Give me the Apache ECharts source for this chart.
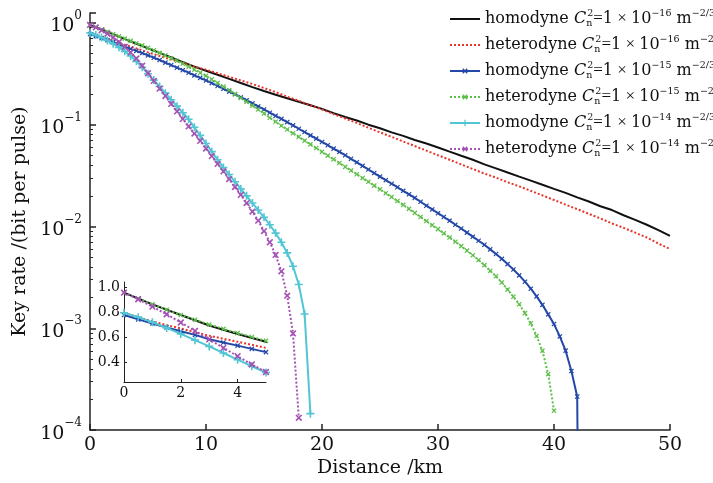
<!DOCTYPE html>
<html>
<head>
<meta charset="utf-8">
<script src="https://cdn.jsdelivr.net/npm/echarts@6/dist/echarts.min.js"></script>
<style>
html, body { margin: 0; padding: 0; background: #fff; }
#container { width: 713px; height: 483px; }
</style>
</head>
<body>
<div id="container"></div>
<script>
// distances (km)
var dist05 = [0,0.5,1,1.5,2,2.5,3,3.5,4,4.5,5,5.5,6,6.5,7,7.5,8,8.5,9,9.5,
  10,10.5,11,11.5,12,12.5,13,13.5,14,14.5,15,15.5,16,16.5,17,17.5,18,18.5,19,19.5,
  20,20.5,21,21.5,22,22.5,23,23.5,24,24.5,25,25.5,26,26.5,27,27.5,28,28.5,29,29.5,
  30,30.5,31,31.5,32,32.5,33,33.5,34,34.5,35,35.5,36,36.5,37,37.5,38,38.5,39,39.5,
  40,40.5,41,41.5,42];
var dist1 = [0,1,2,3,4,5,6,7,8,9,10,11,12,13,14,15,16,17,18,19,20,21,22,23,24,25,
  26,27,28,29,30,31,32,33,34,35,36,37,38,39,40,41,42,43,44,45,46,47,48,49,50];

// key rate (bit per pulse)
var homo16 = [0.955,0.861,0.776,0.692,0.624,0.562,0.507,0.457,0.412,0.372,
  0.339,0.309,0.282,0.257,0.234,0.214,0.197,0.182,0.168,0.155,
  0.143,0.130,0.119,0.110,0.100,0.0923,0.0841,0.0776,0.0708,0.0653,
  0.0596,0.0543,0.0495,0.0452,0.0407,0.0372,0.0339,0.0309,0.0282,0.0257,
  0.0234,0.0214,0.0193,0.0176,0.0158,0.0145,0.0129,0.0116,0.0104,0.0092,
  0.0081];
var hetero16 = [0.794,0.724,0.668,0.610,0.562,0.513,0.473,0.437,0.403,0.372,
  0.347,0.320,0.295,0.272,0.251,0.229,0.209,0.188,0.172,0.155,
  0.141,0.127,0.115,0.104,0.0933,0.0841,0.0759,0.0684,0.0617,0.0556,
  0.0501,0.0452,0.0407,0.0367,0.0331,0.0302,0.0272,0.0248,0.0224,0.0202,
  0.0182,0.0164,0.0148,0.0133,0.0120,0.0107,0.0097,0.0087,0.0078,0.0068,
  0.0060];
var homo15 = [0.776,0.741,0.708,0.676,0.646,0.617,0.582,0.556,0.531,0.505,
  0.479,0.455,0.432,0.407,0.385,0.363,0.343,0.324,0.305,0.288,
  0.272,0.256,0.240,0.225,0.211,0.199,0.186,0.174,0.162,0.151,
  0.141,0.131,0.122,0.114,0.106,0.0984,0.0912,0.0847,0.0785,0.0729,
  0.0676,0.0628,0.0582,0.0541,0.0501,0.0462,0.0427,0.0394,0.0363,0.0335,
  0.0309,0.0285,0.0263,0.0243,0.0224,0.0207,0.0191,0.0175,0.0160,0.0147,
  0.0135,0.0124,0.0114,0.0104,0.00955,0.00871,0.00794,0.00724,0.00661,0.00596,
  0.00537,0.00481,0.00427,0.00378,0.00331,0.00287,0.00245,0.00206,0.00170,0.00137,
  0.00110,0.000832,0.000603,0.000380,0.000214];
var homo15Drop = [42.1, 0.00001];   // falls off the bottom of the axis
var hetero15 = [0.955,0.908,0.861,0.818,0.776,0.738,0.700,0.665,0.631,0.600,
  0.569,0.537,0.507,0.479,0.450,0.424,0.398,0.372,0.347,0.324,
  0.302,0.279,0.257,0.237,0.218,0.200,0.183,0.168,0.154,0.141,
  0.129,0.117,0.107,0.0977,0.0897,0.0824,0.0759,0.0697,0.0640,0.0589,
  0.0541,0.0497,0.0457,0.0420,0.0385,0.0355,0.0326,0.0299,0.0275,0.0252,
  0.0232,0.0212,0.0195,0.0178,0.0163,0.0149,0.0136,0.0124,0.0113,0.0103,
  0.00942,0.00857,0.00780,0.00708,0.00641,0.00579,0.00522,0.00468,0.00417,0.00367,
  0.00324,0.00282,0.00240,0.00204,0.00172,0.00141,0.00112,0.000841,0.000603,0.000355,
  0.000155];
var homo14 = [0.794,0.759,0.718,0.673,0.625,0.575,0.525,0.472,0.419,0.366,
  0.316,0.274,0.237,0.204,0.176,0.152,0.131,0.113,0.0942,0.0785,
  0.0653,0.0543,0.0452,0.0380,0.0324,0.0275,0.0234,0.0200,0.0170,0.0145,
  0.0123,0.0104,0.00861,0.00700,0.00550,0.00407,0.00269,0.00138,0.000145];
var hetero14 = [0.955,0.902,0.843,0.782,0.716,0.649,0.581,0.513,0.447,0.380,
  0.320,0.269,0.226,0.191,0.160,0.135,0.114,0.0962,0.0817,0.0692,
  0.0582,0.0490,0.0412,0.0347,0.0292,0.0244,0.0204,0.0170,0.0140,0.0114,
  0.00902,0.00700,0.00525,0.00363,0.00209,0.000891,0.000132];

var xTicks = [0,10,20,30,40,50];
var yTicks = [0.0001,0.001,0.01,0.1,1];
var insetXTicks = [0,2,4];
var insetYTicks = [0.4,0.6,0.8,1.0];

var names = ['homodyne 16','heterodyne 16','homodyne 15','heterodyne 15','homodyne 14','heterodyne 14'];
var expo = { '16': '−16', '15': '−15', '14': '−14' };

var FONT = 'DejaVu Serif';
var OPFONT = 'Liberation Serif';
var plusPath = 'path://M4,0H6V4H10V6H6V10H4V6H0V4H4Z';

function pairs(xs, ys) {
  return ys.map(function (y, i) { return [xs[i], y]; });
}

var looks = [
  { data: pairs(dist1, homo16), color: '#111111', type: 'solid', width: 2, symbol: 'none' },
  { data: pairs(dist1, hetero16), color: '#e8352b', type: 'dotted', width: 2, symbol: 'none' },
  { data: pairs(dist05, homo15).concat([homo15Drop]), color: '#2448a8', type: 'solid', width: 2, symbol: plusPath, size: 6, rot: 45 },
  { data: pairs(dist05, hetero15), color: '#5cbf48', type: 'dotted', width: 2, symbol: plusPath, size: 6, rot: 45 },
  { data: pairs(dist05, homo14), color: '#52c6d4', type: 'solid', width: 2, symbol: plusPath, size: 8, rot: 0 },
  { data: pairs(dist05, hetero14), color: '#a452b4', type: 'dotted', width: 2, symbol: plusPath, size: 8, rot: 45 }
];

var series = [];
[0, 1].forEach(function (g) {
  looks.forEach(function (s, i) {
    series.push({
      name: names[i],
      type: 'line',
      xAxisIndex: g, yAxisIndex: g,
      data: s.data,
      symbol: s.symbol,
      symbolSize: s.size,
      symbolRotate: s.rot || 0,
      showSymbol: s.symbol !== 'none',
      itemStyle: { color: s.color },
      lineStyle: { color: s.color, type: s.type, width: s.width },
      clip: true,
      z: 2 + i
    });
  });
});

var legendData = names.map(function (n, i) {
  return looks[i].symbol === 'none' ? { name: n, itemStyle: { opacity: 0 } } : { name: n };
});

var chart = echarts.init(document.getElementById('container'));
var axisCol = '#222';
var option = {
  animation: false,
  backgroundColor: '#fff',
  legend: {
    data: legendData,
    orient: 'vertical',
    left: 444, top: 4,
    itemWidth: 30, itemHeight: 8, itemGap: 6,
    selectedMode: false,
    formatter: function (name) {
      var p = name.split(' ');
      return '{t|' + p[0] + ' }{i|C}{sub|n}{sup|2}{o|=}{t|1}{o| × }{t|10}{sup|' + expo[p[1]] + '}{t| m}{sup|−2/3}';
    },
    textStyle: {
      fontFamily: FONT, color: '#111', lineHeight: 20,
      rich: {
        t: { fontFamily: FONT, fontSize: 16, color: '#111' },
        o: { fontFamily: OPFONT, fontSize: 17, color: '#111' },
        i: { fontFamily: FONT, fontSize: 16, fontStyle: 'italic', color: '#111' },
        sub: { fontFamily: FONT, fontSize: 9.5, color: '#111', verticalAlign: 'bottom', lineHeight: 20, width: 1 },
        sup: { fontFamily: FONT, fontSize: 9.5, color: '#111', verticalAlign: 'top', lineHeight: 20 }
      }
    }
  },
  grid: [
    { left: 90, right: 43, top: 13, bottom: 47 },
    { left: 124, right: 447, top: 282, bottom: 101 }
  ],
  xAxis: [{
    type: 'value', gridIndex: 0, min: 0, max: 50, interval: 10,
    name: 'Distance /km', nameLocation: 'middle', nameGap: 22,
    nameTextStyle: { fontFamily: FONT, fontSize: 19, color: '#111' },
    axisLine: { lineStyle: { color: axisCol, width: 1.5 } },
    axisTick: { inside: true, length: 6, lineStyle: { color: axisCol, width: 1.5 }, customValues: xTicks },
    axisLabel: { fontFamily: FONT, fontSize: 19, color: '#111', margin: 5, customValues: xTicks },
    splitLine: { show: false }
  }, {
    type: 'value', gridIndex: 1, min: 0, max: 5,
    axisLine: { lineStyle: { color: axisCol, width: 1 } },
    axisTick: { inside: true, length: 3, lineStyle: { color: axisCol }, customValues: insetXTicks },
    axisLabel: { fontFamily: FONT, fontSize: 14, color: '#111', margin: 4, customValues: insetXTicks },
    splitLine: { show: false }
  }],
  yAxis: [{
    type: 'log', gridIndex: 0, min: 0.0001, max: 1.25, logBase: 10,
    name: 'Key rate /(bit per pulse)', nameLocation: 'middle', nameGap: 55,
    nameTextStyle: { fontFamily: FONT, fontSize: 19, color: '#111' },
    axisLine: { lineStyle: { color: axisCol, width: 1.5 } },
    axisTick: { inside: true, length: 6, lineStyle: { color: axisCol, width: 1.5 } },
    minorTick: { show: true, splitNumber: 9, length: 3, lineStyle: { color: axisCol } },
    axisLabel: {
      margin: 8, customValues: yTicks,
      formatter: function (v) {
        var e = Math.round(Math.log10(v));
        return '{b|10}{s|' + (e === 0 ? '0' : '−' + (-e)) + '}';
      },
      rich: {
        b: { fontFamily: FONT, fontSize: 19, color: '#111', lineHeight: 26, verticalAlign: 'bottom' },
        s: { fontFamily: FONT, fontSize: 12, color: '#111', lineHeight: 26, verticalAlign: 'top' }
      }
    },
    splitLine: { show: false }
  }, {
    type: 'value', gridIndex: 1, min: 0.24, max: 1.04,
    axisLine: { lineStyle: { color: axisCol, width: 1 } },
    axisTick: { inside: true, length: 3, lineStyle: { color: axisCol }, customValues: insetYTicks },
    axisLabel: {
      fontFamily: FONT, fontSize: 14, color: '#111', margin: 4, customValues: insetYTicks,
      formatter: function (v) { return v.toFixed(1); }
    },
    splitLine: { show: false }
  }],
  series: series
};
chart.setOption(option);
</script>
</body>
</html>
